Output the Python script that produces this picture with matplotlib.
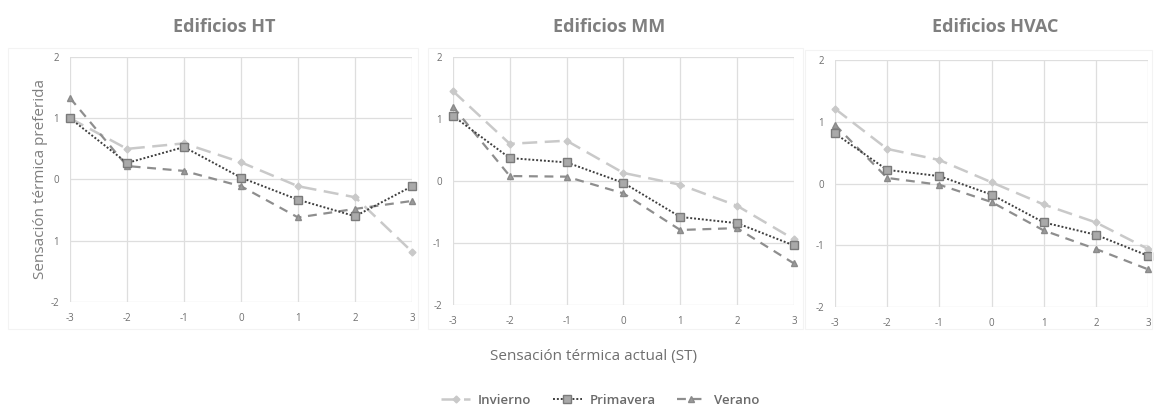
import matplotlib.pyplot as plt
from matplotlib.patches import Rectangle
from matplotlib.lines import Line2D

plt.rcParams['font.family'] = ['Open Sans', 'DejaVu Sans']
plt.rcParams['axes.unicode_minus'] = False

# sensacion termica actual (ST)
st = [-3, -2, -1, 0, 1, 2, 3]

# Edificios HT
ht_invierno = [1.0, 0.50, 0.59, 0.28, -0.11, -0.29, -1.18]
ht_primavera = [1.0, 0.27, 0.53, 0.03, -0.33, -0.60, -0.11]
ht_verano = [1.33, 0.22, 0.14, -0.11, -0.62, -0.48, -0.35]

# Edificios MM
mm_invierno = [1.45, 0.60, 0.65, 0.13, -0.06, -0.40, -0.94]
mm_primavera = [1.05, 0.37, 0.30, -0.03, -0.58, -0.68, -1.04]
mm_verano = [1.20, 0.08, 0.07, -0.20, -0.79, -0.76, -1.33]

# Edificios HVAC
hvac_invierno = [1.21, 0.56, 0.38, 0.02, -0.34, -0.63, -1.06]
hvac_primavera = [0.81, 0.22, 0.12, -0.18, -0.63, -0.83, -1.17]
hvac_verano = [0.95, 0.09, -0.02, -0.30, -0.76, -1.06, -1.39]

titles = ['Edificios HT', 'Edificios MM', 'Edificios HVAC']
yticks = [-2, -1, 0, 1, 2]
# the HT panel prints its -1 tick without the minus sign
ytick_labels = [['-2', '1', '0', '1', '2'],
                ['-2', '-1', '0', '1', '2'],
                ['-2', '-1', '0', '1', '2']]
series = [(ht_invierno, ht_primavera, ht_verano),
          (mm_invierno, mm_primavera, mm_verano),
          (hvac_invierno, hvac_primavera, hvac_verano)]

# axes rectangles [left, bottom, width, height] in figure fractions
boxes = [[0.0607, 0.2758, 0.2964, 0.5875],
         [0.3925, 0.2686, 0.2955, 0.5947],
         [0.7236, 0.2638, 0.2712, 0.5923]]
frames = [(0.007, 0.21, 0.355, 0.675),
          (0.371, 0.21, 0.325, 0.675),
          (0.698, 0.21, 0.30, 0.67)]
title_x = [0.194, 0.528, 0.862]

c_inv = '#c9c9c9'
c_pri = '#3f3f3f'
c_ver = '#8e8e8e'
txt = '#7f7f7f'

inv_style = dict(color=c_inv, linestyle=(0, (6, 3)), linewidth=1.8, marker='D',
                 markersize=3.5, markerfacecolor=c_inv, markeredgecolor=c_inv)
pri_style = dict(color=c_pri, linestyle=(0, (1, 1)), linewidth=1.4, marker='s',
                 markersize=6, markerfacecolor='#a9a9a9', markeredgecolor='#7a7a7a')
ver_style = dict(color=c_ver, linestyle=(0, (4, 3)), linewidth=1.6, marker='^',
                 markersize=4.5, markerfacecolor='#9a9a9a', markeredgecolor='#8a8a8a')

fig = plt.figure(figsize=(11.54, 4.17), dpi=100)

for fr in frames:
    fig.patches.append(Rectangle((fr[0], fr[1]), fr[2], fr[3], transform=fig.transFigure,
                                 fill=False, edgecolor='#f3f3f3', linewidth=0.8))

for i, (inv, pri, ver) in enumerate(series):
    ax = fig.add_axes(boxes[i])
    ax.plot(st, inv, clip_on=False, zorder=3, **inv_style)
    ax.plot(st, ver, clip_on=False, zorder=4, **ver_style)
    ax.plot(st, pri, clip_on=False, zorder=5, **pri_style)
    ax.set_xlim(-3, 3)
    ax.set_ylim(-2, 2)
    ax.set_xticks(st)
    ax.set_yticks(yticks)
    ax.set_yticklabels(ytick_labels[i])
    ax.grid(True, color='#dedede', linewidth=0.9)
    ax.set_axisbelow(True)
    for s in ax.spines.values():
        s.set_visible(False)
    ax.tick_params(length=0, labelsize=7, labelcolor='#6f6f6f', pad=8)
    fig.text(title_x[i], 0.935, titles[i], ha='center', va='center',
             fontsize=13, fontweight='bold', color=txt)

fig.text(0.035, 0.57, 'Sensación térmica preferida', rotation=90, ha='center', va='center',
         fontsize=11, color=txt)
fig.text(0.514, 0.145, 'Sensación térmica actual (ST)', ha='center', va='center',
         fontsize=11, color='#6f6f6f')

handles = [Line2D([], [], **inv_style), Line2D([], [], **pri_style),
           Line2D([], [], **ver_style)]
leg = fig.legend(handles, ['Invierno', 'Primavera', 'Verano'], loc='center',
                 bbox_to_anchor=(0.52, 0.04), ncol=3, frameon=False, fontsize=9.5,
                 handlelength=2.2, columnspacing=1.6, handletextpad=0.6)
for t in leg.get_texts():
    t.set_color('#6a6a6a')
    t.set_fontweight('semibold')

fig.savefig('out.png', dpi=100)
